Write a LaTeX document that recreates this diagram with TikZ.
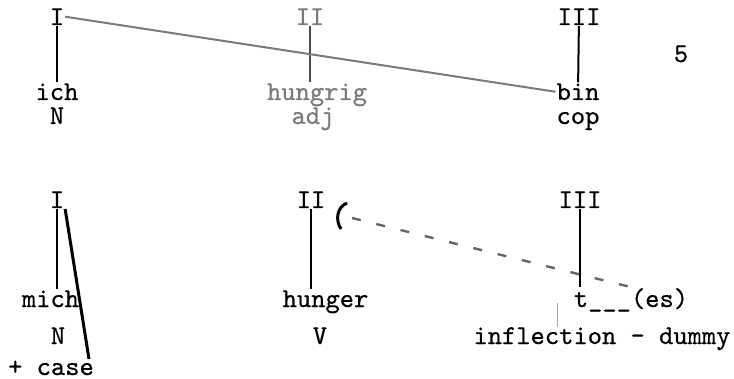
\documentclass[tikz,border=0pt]{standalone}
\usepackage{fontspec}
\usepackage{tikz}
\usetikzlibrary{positioning,calc}
\newfontfamily\tw{lmmono10-regular.otf}[FakeBold=0.6]
\definecolor{faded}{HTML}{7A7A7A}

\begin{document}
\begin{tikzpicture}[x=0.5pt, y=-0.5pt,
  wd/.style={font=\tw\fontsize{13.6}{15}\selectfont, inner sep=0.3pt, anchor=base},
  pale/.style={wd, text=faded},
  stem/.style={line width=1pt}]
\useasboundingbox (0,0) rectangle (734,379);
\node[wd] (t1) at (57,25) {I};
\node[pale] (t2) at (310,25) {II};
\node[wd] (t3) at (579,25) {III};
\node[wd] (page) at (681,62) {5};
\node[wd] (tich) at (57,100) {ich};
\node[pale] (thungrig) at (317,100) {hungrig};
\node[wd] (tbin) at (578,100) {bin};
\node[wd] (tN) at (57,124) {N};
\node[pale] (tadj) at (313,124) {adj};
\node[wd] (tcop) at (578,124) {cop};
\draw[stem] (t1) -- (tich);
\draw[stem, black!70] (t2) -- (t2 |- thungrig.north);
\draw[stem] (t3) -- (tbin);
\draw[line width=1pt, faded] (t1.east) -- (tbin.west);
\node[wd] (b1) at (57,208) {I};
\node[wd] (b2) at (311,208) {II};
\node[wd] (b3) at (580,208) {III};
\node[wd] (bmich) at (50.5,307) {mich};
\node[wd] (bhunger) at (325.5,307) {hunger};
\node[wd] (bt) at (631,307) {t\_\_\_(es)};
\node[wd] (bN) at (58,344) {N};
\node[wd] (bV) at (320,344) {V};
\node[wd] (binfl) at (602,344) {inflection - dummy};
\node[wd] (bcase) at (51,375) {+ case};
\coordinate (caseend) at (89,359);
\coordinate (hook) at (352,218);
\draw[stem] (b1) -- (b1 |- bmich.north);
\draw[line width=1.5pt] (b1.south east) -- (caseend);
\draw[stem] (b2) -- (b2 |- bhunger.north);
\draw[stem] (b3) -- (bt.north -| b3);
\draw[line width=1.2pt, black!60, dash pattern=on 4.5pt off 8pt] (hook) -- (bt.north);
\draw[line width=1.5pt] (347,203) .. controls (337,207) and (335,220) .. (341,229);
\draw[black!35, line width=0.4pt] (557,303) -- (557,327);
\end{tikzpicture}
\end{document}
